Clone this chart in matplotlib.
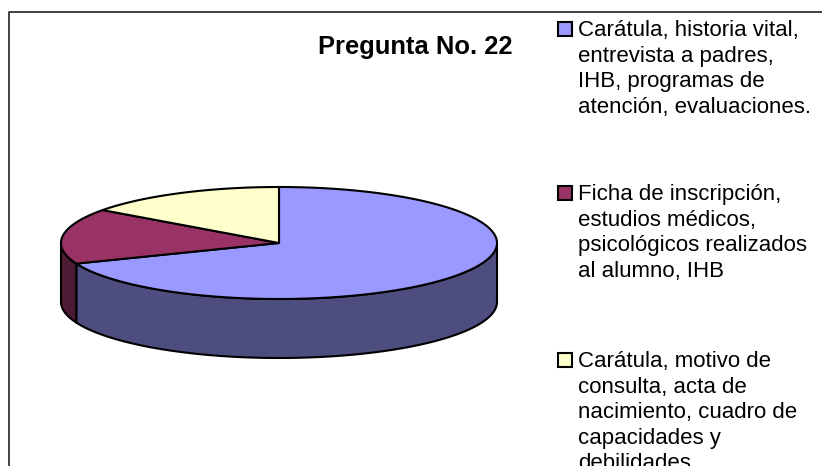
import numpy as np
import matplotlib
matplotlib.use('Agg')
import matplotlib.pyplot as plt
from matplotlib.patches import Polygon, Rectangle

plt.rcParams['font.family'] = ['Liberation Sans', 'DejaVu Sans']

title = 'Pregunta No. 22'
labels = ['Carátula, historia vital,\nentrevista a padres,\nIHB, programas de\natención, evaluaciones.',
          'Ficha de inscripción,\nestudios médicos,\npsicológicos realizados\nal alumno, IHB',
          'Carátula, motivo de\nconsulta, acta de\nnacimiento, cuadro de\ncapacidades y\ndebilidades.']
values = [69, 16, 15]
colors = ['#9999FF', '#993366', '#FFFFCC']
side_colors = ['#4D4D80', '#4D1A33', '#808066']
legend_y = [29, 193, 360]

cx, cy, rx, ry, depth = 279, 243, 218, 56, 59


def rim(a0, a1, n=200):
    # angles are clockwise from 12 o'clock, in degrees
    t = np.radians(np.linspace(a0, a1, n))
    return cx + rx * np.sin(t), cy - ry * np.cos(t)


fig = plt.figure(figsize=(8.22, 4.66), dpi=100)
ax = fig.add_axes([0, 0, 1, 1])
ax.set_xlim(0, 822)
ax.set_ylim(466, 0)
ax.axis('off')

# chart frame, runs off the picture on the right and bottom
ax.plot([9, 9, 822], [466, 11.5, 11.5], color='#222222', lw=1.2, solid_capstyle='butt')

edges = np.cumsum([0] + values) / sum(values) * 360

# side walls, only the part of each slice on the front half
for i in range(len(values)):
    a0, a1 = max(edges[i], 90), min(edges[i + 1], 270)
    if a1 <= a0:
        continue
    x, y = rim(a0, a1)
    pts = np.vstack([np.c_[x, y], np.c_[x[::-1], y[::-1] + depth]])
    ax.add_patch(Polygon(pts, closed=True, fc=side_colors[i], ec='black', lw=1.5, joinstyle='round'))

# top faces
for i in range(len(values)):
    x, y = rim(edges[i], edges[i + 1])
    pts = np.vstack([[cx, cy], np.c_[x, y]])
    ax.add_patch(Polygon(pts, closed=True, fc=colors[i], ec='black', lw=1.5, joinstyle='round'))

ax.text(512, 47, title, fontsize=18.4, fontweight='bold', ha='right', va='center', color='black')

for lab, col, ly in zip(labels, colors, legend_y):
    ax.add_patch(Rectangle((558, ly - 7), 14, 14, fc=col, ec='black', lw=1.5))
    ax.text(578, ly - 9, lab, fontsize=16, ha='left', va='top', color='black',
            linespacing=1.285, clip_on=False)

fig.savefig('out.png', dpi=100, facecolor='white')
